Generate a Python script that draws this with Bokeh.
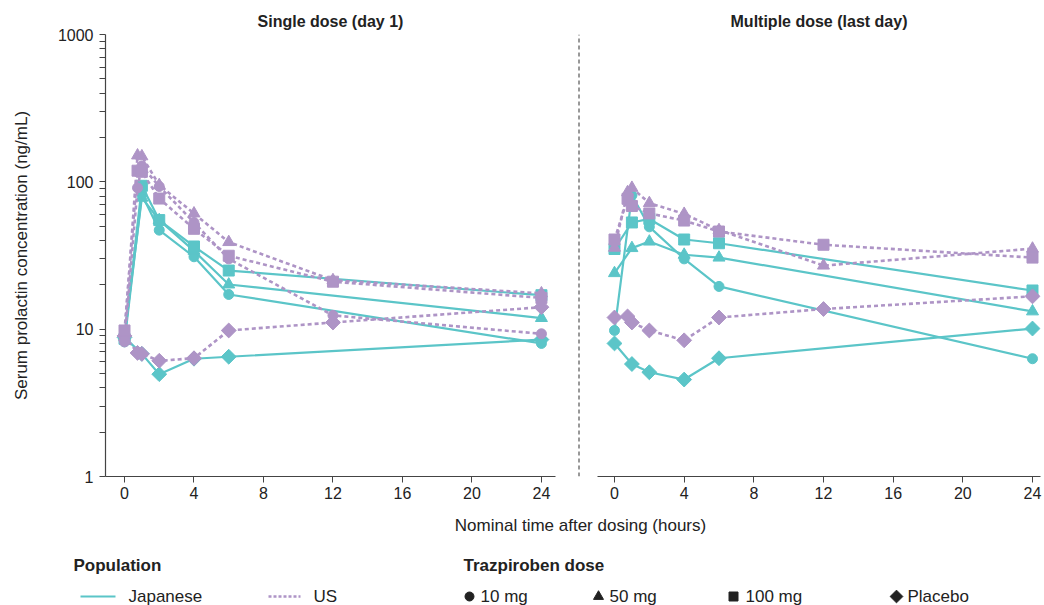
import numpy as np
from bokeh.plotting import figure
from bokeh.layouts import row, column
from bokeh.models import Range1d, FixedTicker, PrintfTickFormatter
from bokeh.core.properties import value
from bokeh.embed import file_html
from bokeh.resources import INLINE

# ---------------- data ----------------
t_jp = [0, 1, 2, 4, 6, 24]
t_us = [0, 0.75, 1, 2, 4, 6, 12, 24]

# Single dose (day 1)
sd_jp_10 = [8.2, 82, 47, 31, 17.2, 8.0]
sd_jp_50 = [9.0, 78, 55, 34, 20.1, 11.9]
sd_jp_100 = [8.6, 94, 55, 36.4, 25, 17.0]
sd_jp_pbo = [8.8, 6.8, 4.95, 6.3, 6.5, 8.5]

sd_us_10 = [8.2, 91, 128, 93, 53, 30, 12.4, 9.3]
sd_us_50 = [8.8, 151, 149, 95, 61, 39, 21.5, 17.5]
sd_us_100 = [9.8, 119, 117, 77, 48, 31.5, 21, 16.3]
sd_us_pbo = [9.0, 6.9, 6.8, 6.1, 6.35, 9.8, 11.1, 14.1]

# Multiple dose (last day)
md_jp_10 = [9.8, 81, 49.5, 30, 19.5, 6.3]
md_jp_50 = [24, 35.5, 39.3, 32, 30.6, 13.2]
md_jp_100 = [35, 53, 56, 40.6, 38.3, 18.3]
md_jp_pbo = [8.0, 5.8, 5.1, 4.55, 6.35, 10.1]

md_us_50 = [35.7, 85, 91, 71.7, 60.6, 47, 27, 35.2]
md_us_100 = [40.6, 76.7, 68.5, 61, 54.6, 46, 37.4, 30.6]
md_us_pbo = [12.0, 12.2, 11.1, 9.8, 8.4, 12.0, 13.7, 16.7]

x_ticks = [0, 4, 8, 12, 16, 20, 24]
y_ticks = [1, 10, 100, 1000]
panel_titles = ["Single dose (day 1)", "Multiple dose (last day)"]

TEAL = "#5BC5C8"
PURPLE = "#AE94C6"
AX = "#444444"
TXT = "#222222"
FONT = "Liberation Sans"

MARK = {
    "10": dict(marker="circle", size=10, angle=0),
    "50": dict(marker="triangle", size=12, angle=0),
    "100": dict(marker="square", size=11, angle=0),
    "pbo": dict(marker="square", size=10.5, angle=np.pi / 4),
}


def style_axes(p, show_y):
    xa = p.xaxis[0]
    xa.ticker = FixedTicker(ticks=x_ticks)
    xa.major_tick_out = 6
    xa.major_tick_in = 0
    xa.minor_tick_out = 0
    xa.axis_line_color = AX
    xa.major_tick_line_color = AX
    xa.axis_line_width = 1.2
    xa.major_label_text_font = FONT
    xa.major_label_text_font_size = "16px"
    xa.major_label_text_color = TXT
    xa.major_label_standoff = 4
    if show_y:
        ya = p.yaxis[0]
        minors = [m * d for d in (1, 10, 100) for m in range(2, 10)]
        ya.ticker = FixedTicker(ticks=y_ticks, minor_ticks=minors)
        ya.formatter = PrintfTickFormatter(format="%d")
        ya.major_tick_out = 6
        ya.major_tick_in = 0
        ya.minor_tick_out = 6
        ya.minor_tick_in = 0
        ya.axis_line_color = AX
        ya.major_tick_line_color = AX
        ya.minor_tick_line_color = AX
        ya.axis_line_width = 1.2
        ya.major_label_text_font = FONT
        ya.major_label_text_font_size = "16px"
        ya.major_label_text_color = TXT
        ya.major_label_standoff = 6
        ya.axis_label = "Serum prolactin concentration (ng/mL)"
        ya.axis_label_text_font = FONT
        ya.axis_label_text_font_size = "17px"
        ya.axis_label_text_font_style = "normal"
        ya.axis_label_text_color = TXT
        ya.axis_label_standoff = 24
    p.xgrid.visible = False
    p.ygrid.visible = False
    p.outline_line_color = None
    p.title.text_font = FONT
    p.title.text_font_size = "16px"
    p.title.text_font_style = "bold"
    p.title.text_color = TXT
    p.title.align = "center"


def add_series(p, t, vals, key, color, dashed):
    kw = dict(line_color=color, line_width=2.2 if not dashed else 2.6)
    if dashed:
        kw["line_dash"] = "4 3"
    p.line(t, vals, **kw)
    m = MARK[key]
    p.scatter(t, vals, marker=m["marker"], size=m["size"], angle=m["angle"],
              fill_color=color, line_color=color)


H = 506
left = figure(width=560, height=H, y_axis_type="log", output_backend="svg",
              toolbar_location=None, title=panel_titles[0],
              x_range=Range1d(-1.094, 24.81), y_range=Range1d(1, 1000),
              min_border_left=105, min_border_right=5, min_border_top=34,
              min_border_bottom=30)
style_axes(left, True)
for vals, key in [(sd_jp_pbo, "pbo"), (sd_jp_10, "10"), (sd_jp_50, "50"), (sd_jp_100, "100")]:
    add_series(left, t_jp, vals, key, TEAL, False)
for vals, key in [(sd_us_pbo, "pbo"), (sd_us_10, "10"), (sd_us_50, "50"), (sd_us_100, "100")]:
    add_series(left, t_us, vals, key, PURPLE, True)

sep = figure(width=37, height=H, output_backend="svg", toolbar_location=None,
             x_range=Range1d(0, 37), y_range=Range1d(0, 1),
             x_axis_location=None, y_axis_location=None,
             min_border_left=0, min_border_right=0, min_border_top=34,
             min_border_bottom=30)
sep.outline_line_color = None
sep.xgrid.visible = False
sep.ygrid.visible = False
sep.segment(x0=[18.5], y0=[0], x1=[18.5], y1=[1], line_color="#333333",
            line_width=1, line_dash="4 3")

right = figure(width=447, height=H, y_axis_type="log", output_backend="svg",
               toolbar_location=None, title=panel_titles[1],
               x_range=Range1d(-0.976, 24.46), y_range=Range1d(1, 1000),
               y_axis_location=None,
               min_border_left=0, min_border_right=4, min_border_top=34,
               min_border_bottom=30)
style_axes(right, False)
for vals, key in [(md_jp_pbo, "pbo"), (md_jp_10, "10"), (md_jp_50, "50"), (md_jp_100, "100")]:
    add_series(right, t_jp, vals, key, TEAL, False)
for vals, key in [(md_us_pbo, "pbo"), (md_us_50, "50"), (md_us_100, "100")]:
    add_series(right, t_us, vals, key, PURPLE, True)

# ---------------- legend / x-axis title strip ----------------
leg = figure(width=1044, height=605 - H, output_backend="svg", toolbar_location=None,
             x_range=Range1d(0, 1044), y_range=Range1d(605, H),
             x_axis_location=None, y_axis_location=None,
             min_border=0)
leg.outline_line_color = None
leg.xgrid.visible = False
leg.ygrid.visible = False

leg.text(x=[580], y=[525], text=["Nominal time after dosing (hours)"],
         text_font=value(FONT), text_font_size="17px", text_color=TXT,
         text_align="center", text_baseline="middle")
leg.text(x=[73, 463], y=[565, 565], text=["Population", "Trazpiroben dose"],
         text_font=value(FONT), text_font_size="17px", text_font_style="bold",
         text_color=TXT, text_align="left", text_baseline="middle")
leg.segment(x0=[80], y0=[596], x1=[115], y1=[596], line_color=TEAL, line_width=2.2)
leg.segment(x0=[268], y0=[596], x1=[300], y1=[596], line_color=PURPLE,
            line_width=2.6, line_dash="3 2")
leg.text(x=[128, 313, 480, 609, 745, 907], y=[596] * 6,
         text=["Japanese", "US", "10 mg", "50 mg", "100 mg", "Placebo"],
         text_font=value(FONT), text_font_size="17px", text_color=TXT,
         text_align="left", text_baseline="middle")
leg.scatter(x=[469], y=[596], marker="circle", size=9, color=TXT)
leg.scatter(x=[598], y=[596], marker="triangle", size=10, color=TXT)
leg.scatter(x=[733], y=[596], marker="square", size=9, color=TXT)
leg.scatter(x=[896], y=[596], marker="square", size=9, angle=np.pi / 4, color=TXT)

layout = column(row(left, sep, right, spacing=0), leg, spacing=0)
open("out.html", "w").write(file_html(layout, INLINE))
